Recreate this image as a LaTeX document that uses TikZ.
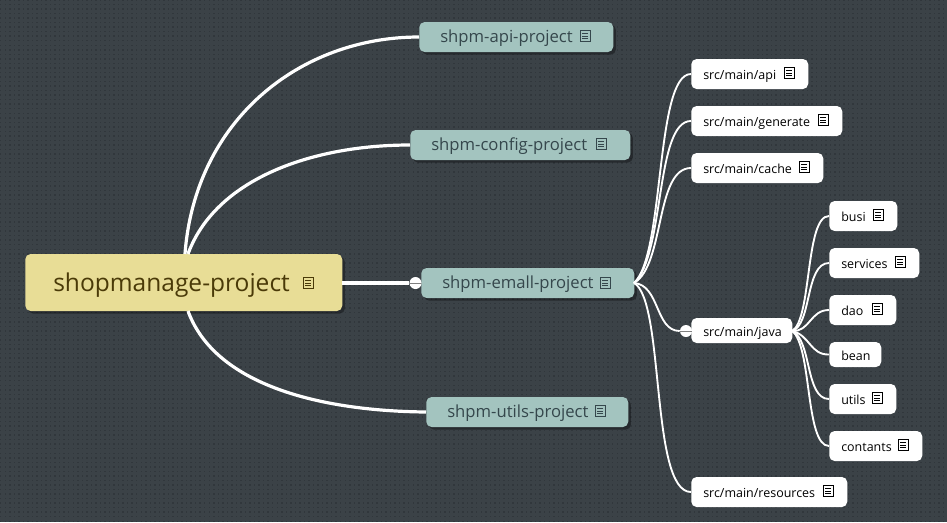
\documentclass[tikz,border=0pt]{standalone}
\usepackage{fontspec}
\setmainfont{Open Sans}
\usetikzlibrary{shadows,patterns}
\definecolor{bgdark}{HTML}{3B4247}
\definecolor{bgdot}{HTML}{31373C}
\definecolor{rootfill}{HTML}{E8DD96}
\definecolor{rootink}{HTML}{4A3A08}
\definecolor{projfill}{HTML}{A3C4BF}
\definecolor{projink}{HTML}{35474C}
\pgfdeclarepatternformonly{bgdots}{\pgfqpoint{-1pt}{-1pt}}{\pgfqpoint{2.4pt}{2.4pt}}{\pgfqpoint{3.4pt}{3.4pt}}{
  \pgfpathrectangle{\pgfqpoint{0pt}{0pt}}{\pgfqpoint{1.1pt}{1.1pt}}
  \pgfusepath{fill}
}
\tikzset{
  x=0.75pt,y=-0.75pt,
  boxnode/.style={rectangle,rounded corners=4pt,anchor=west,inner ysep=0pt,align=left},
  rootbox/.style={boxnode,fill=rootfill,text=rootink,minimum height=42.75pt,inner xsep=21pt,text height=17pt,text depth=3.2pt,font=\fontsize{18.4}{20}\selectfont,drop shadow={shadow xshift=2pt,shadow yshift=-2pt,opacity=0.35,fill=black}},
  projbox/.style={boxnode,fill=projfill,text=projink,minimum height=22.5pt,inner xsep=15.75pt,text height=11pt,text depth=3pt,font=\fontsize{12.5}{14}\selectfont,drop shadow={shadow xshift=2pt,shadow yshift=-2pt,opacity=0.35,fill=black}},
  srcbox/.style={boxnode,fill=white,text=black,minimum height=22.5pt,inner xsep=9pt,text height=10.5pt,text depth=2pt,font=\fontsize{9.35}{11}\selectfont},
  rootlink/.style={white,line width=2.4pt},
  srclink/.style={white,line width=1.4pt},
  knob/.style={circle,fill=white,minimum size=9pt,inner sep=0pt,path picture={\draw[gray,line width=0.6pt] (path picture bounding box.west)--(path picture bounding box.east);}},
  pics/noteicon/.style={code={
    \draw[line width=0.7pt] (-5,-5.5) rectangle (5,5.5);
    \draw[line width=0.45pt] (-3,-2.5)--(3,-2.5);
    \draw[line width=0.45pt] (-3,0)--(3,0);
    \draw[line width=0.45pt] (-3,2.5)--(3,2.5);
  }},
}
\begin{document}
\begin{tikzpicture}
\useasboundingbox (0,0) rectangle (947,522);
\fill[bgdark] (0,0) rectangle (947,522);
\fill[pattern=bgdots,pattern color=bgdot] (0,0) rectangle (947,522);

% links first, the boxes go on top
\coordinate (rootout) at (342,283);
\coordinate (rootn) at (185,254);
\coordinate (rootnb) at (188,254);
\coordinate (roots) at (188,311);
\coordinate (emallout) at (634,283);
\coordinate (javaout) at (792,331);

\node[rootbox,text width=195.75pt] (root) at (25,282.5) {shopmanage-project};

\node[projbox,text width=114pt] (api) at (419,37) {shpm-api-project};
\node[projbox,text width=133.5pt] (config) at (410,145) {shpm-config-project};
\node[projbox,text width=128.25pt] (emall) at (421,283) {shpm-emall-project};
\node[projbox,text width=120pt] (utilsproj) at (426,412) {shpm-utils-project};

\node[srcbox,text width=69.75pt] (srcapi) at (691,74) {src/main/api};
\node[srcbox,text width=95.25pt] (srcgen) at (691,121) {src/main/generate};
\node[srcbox,text width=81pt] (srccache) at (691,168) {src/main/cache};
\node[srcbox,text width=57.75pt,minimum height=18.75pt] (srcjava) at (691,330.5) {src/main/java};
\node[srcbox,text width=99pt] (srcres) at (691,492) {src/main/resources};

\node[srcbox,text width=33pt] (busi) at (829,216) {busi};
\node[srcbox,text width=49.5pt] (services) at (829,263) {services};
\node[srcbox,text width=32.25pt] (dao) at (829,310) {dao};
\node[srcbox,text width=21pt,minimum height=18.75pt] (bean) at (829,354.5) {bean};
\node[srcbox,text width=32.25pt] (utils) at (829,399) {utils};
\node[srcbox,text width=51.75pt] (contants) at (829,446) {contants};

\node[knob] (emallknob) at (415.5,283) {};
\node[knob] (javaknob) at (686,331) {};

\draw[rootlink] (rootn) .. controls (195,120) and (300,37) .. (api.west);
\draw[rootlink] (rootnb) .. controls (215,180) and (310,145) .. (config.west);
\draw[rootlink] (roots) .. controls (215,385) and (320,411) .. (utilsproj.west);
\draw[rootlink] (rootout) -- (emallknob);

\draw[srclink] (emallout) .. controls (665,255) and (655,74) .. (srcapi.west);
\draw[srclink] (emallout) .. controls (665,255) and (655,121) .. (srcgen.west);
\draw[srclink] (emallout) .. controls (665,265) and (655,168) .. (srccache.west);
\draw[srclink] (emallout) .. controls (660,285) and (655,331) .. (javaknob);
\draw[srclink] (emallout) .. controls (665,300) and (650,492) .. (srcres.west);

\draw[srclink] (javaout) .. controls (812,320) and (805,216) .. (busi.west);
\draw[srclink] (javaout) .. controls (812,325) and (805,263) .. (services.west);
\draw[srclink] (javaout) .. controls (810,332) and (810,310) .. (dao.west);
\draw[srclink] (javaout) .. controls (810,335) and (810,355) .. (bean.west);
\draw[srclink] (javaout) .. controls (812,340) and (805,399) .. (utils.west);
\draw[srclink] (javaout) .. controls (812,345) and (805,446) .. (contants.west);

\pic[rootink] at (308,283) {noteicon};
\pic[projink] at (585,36) {noteicon};
\pic[projink] at (601,144) {noteicon};
\pic[projink] at (605,283) {noteicon};
\pic[projink] at (600,411) {noteicon};
\pic[black] at (789,73) {noteicon};
\pic[black] at (823,120) {noteicon};
\pic[black] at (804,167) {noteicon};
\pic[black] at (828,491) {noteicon};
\pic[black] at (878,215) {noteicon};
\pic[black] at (900,262) {noteicon};
\pic[black] at (877,309) {noteicon};
\pic[black] at (877,398) {noteicon};
\pic[black] at (903,445) {noteicon};

\end{tikzpicture}
\end{document}
